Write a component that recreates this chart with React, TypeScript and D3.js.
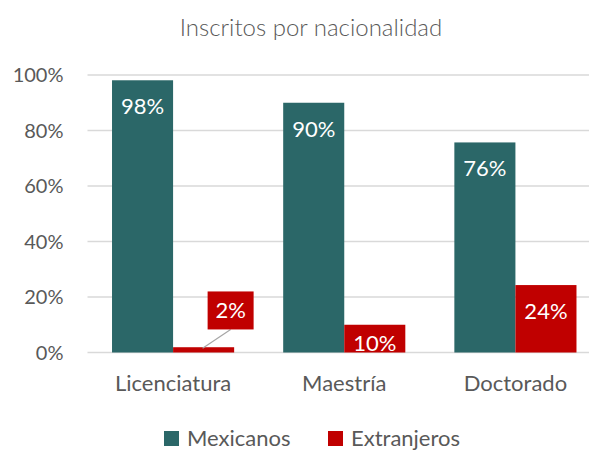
import React from "react";
import { scaleBand, scaleLinear } from "d3";

const WIDTH = 589;
const HEIGHT = 451;
const MARGIN = { top: 75, right: -12, bottom: 98.5, left: 87.5 };

const categories = ["Licenciatura", "Maestría", "Doctorado"];
const seriesNames = ["Mexicanos", "Extranjeros"];
const mexicanos = [0.981, 0.9, 0.757];
const extranjeros = [0.019, 0.1, 0.243];
const yTicks = [0, 0.2, 0.4, 0.6, 0.8, 1];

const COLORS = ["#2b6768", "#c00000"];
const TEXT = "#595959";
const FONT = "Lato, 'Open Sans', sans-serif";

export default function App() {
  const innerWidth = WIDTH - MARGIN.left - MARGIN.right;
  const innerHeight = HEIGHT - MARGIN.top - MARGIN.bottom;

  const x = scaleBand()
    .domain(categories)
    .range([0, innerWidth])
    .paddingInner(0.2865)
    .paddingOuter(0.14325);
  const xs = scaleBand().domain(seriesNames).range([0, x.bandwidth()]);
  const y = scaleLinear().domain([0, 1]).range([innerHeight, 0]);

  const series = [mexicanos, extranjeros];
  const fmt = (v: number) => `${Math.round(v * 100)}%`;

  return (
    <svg
      width={WIDTH}
      height={HEIGHT}
      style={{ position: "absolute", left: 0, top: 0, background: "#fff" }}
      fontFamily={FONT}
    >
      <text x={311} y={36} textAnchor="middle" fontSize={24} fontWeight={300} fill={TEXT}>
        Inscritos por nacionalidad
      </text>
      <g transform={`translate(${MARGIN.left},${MARGIN.top})`}>
        {yTicks.map((t) => (
          <g key={t}>
            <line x1={0} x2={innerWidth} y1={y(t)} y2={y(t)} stroke="#d9d9d9" strokeWidth={1.5} />
            <text x={-24} y={y(t)} dy="0.36em" textAnchor="end" fontSize={20} fill={TEXT}>
              {fmt(t)}
            </text>
          </g>
        ))}
        {categories.map((c, i) => (
          <g key={c} transform={`translate(${x(c)},0)`}>
            {series.map((vals, s) => {
              const v = vals[i];
              const bx = xs(seriesNames[s])!;
              const bw = xs.bandwidth();
              const top = y(v);
              const cx = bx + bw / 2;
              let label;
              if (innerHeight - top > 30) {
                label = (
                  <text x={cx} y={top + 34} textAnchor="middle" fontSize={22} fill="#fff">
                    {fmt(v)}
                  </text>
                );
              } else if (innerHeight - top > 15) {
                label = (
                  <text x={cx} y={innerHeight - 2} textAnchor="middle" fontSize={22} fill="#fff">
                    {fmt(v)}
                  </text>
                );
              } else {
                // callout above the tiny bar
                const boxX = cx + 4;
                const boxY = y(0.22);
                const boxW = 46;
                const boxH = 38;
                label = (
                  <g>
                    <line
                      x1={cx - 1}
                      y1={top + 1}
                      x2={boxX + boxW / 2}
                      y2={boxY + boxH}
                      stroke="#a6a6a6"
                      strokeWidth={1.2}
                    />
                    <rect x={boxX} y={boxY} width={boxW} height={boxH} fill={COLORS[s]} />
                    <text x={boxX + boxW / 2} y={boxY + 27} textAnchor="middle" fontSize={22} fill="#fff">
                      {fmt(v)}
                    </text>
                  </g>
                );
              }
              return (
                <g key={s}>
                  <rect x={bx} y={top} width={bw} height={innerHeight - top} fill={COLORS[s]} />
                  {label}
                </g>
              );
            })}
            <text x={x.bandwidth() / 2} y={innerHeight + 38} textAnchor="middle" fontSize={22} fill={TEXT}>
              {c}
            </text>
          </g>
        ))}
      </g>
      <g transform="translate(164,431)">
        {seriesNames.map((n, i) => (
          <g key={n} transform={`translate(${i * 164},0)`}>
            <rect x={0} y={0} width={15} height={15} fill={COLORS[i]} />
            <text x={23} y={15} fontSize={22} fill={TEXT}>
              {n}
            </text>
          </g>
        ))}
      </g>
    </svg>
  );
}
